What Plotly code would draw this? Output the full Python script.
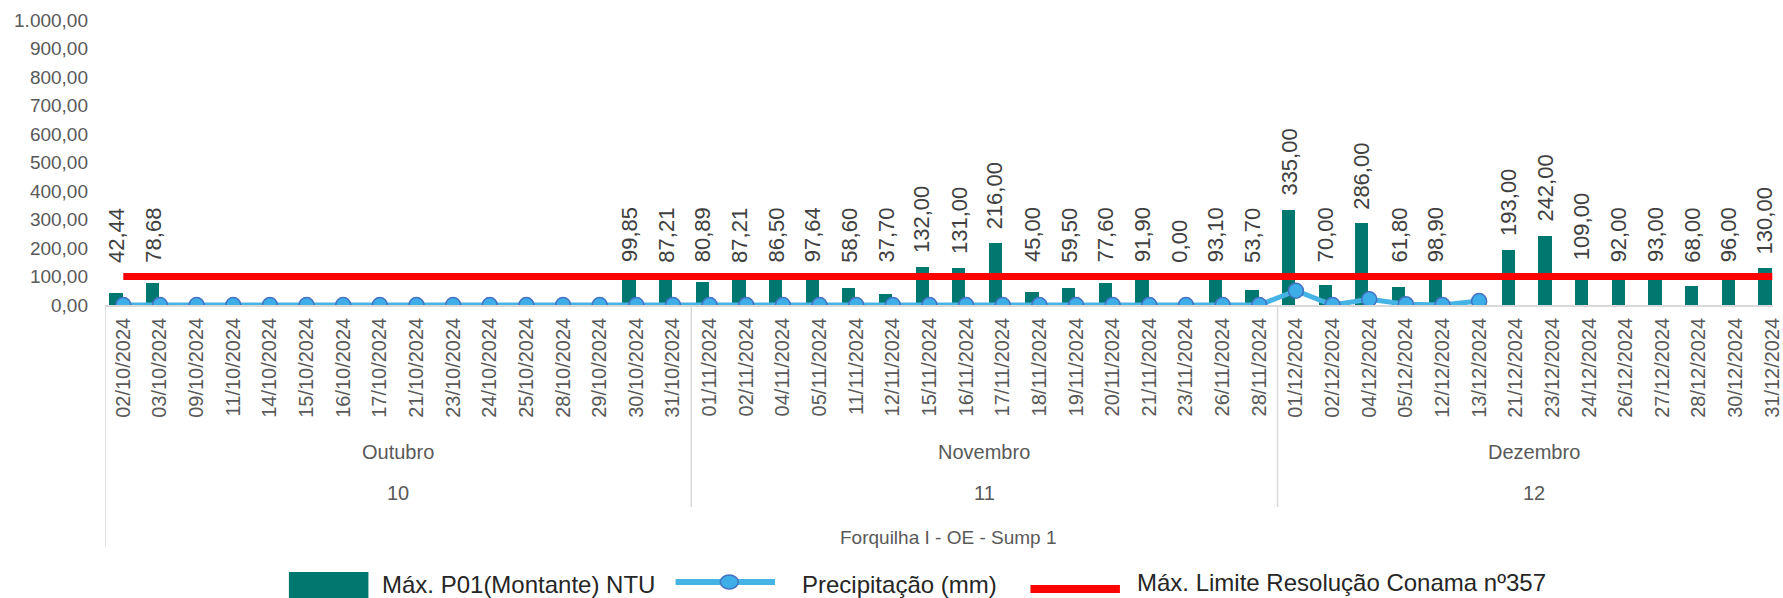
import plotly.graph_objects as go

# ---------------- data ----------------
months = ["Outubro", "Novembro", "Dezembro"]
month_nums = ["10", "11", "12"]
group_title = "Forquilha I - OE - Sump 1"

oct_dates = ["02/10/2024", "03/10/2024", "09/10/2024", "11/10/2024", "14/10/2024",
             "15/10/2024", "16/10/2024", "17/10/2024", "21/10/2024", "23/10/2024",
             "24/10/2024", "25/10/2024", "28/10/2024", "29/10/2024", "30/10/2024",
             "31/10/2024"]
nov_dates = ["01/11/2024", "02/11/2024", "04/11/2024", "05/11/2024", "11/11/2024",
             "12/11/2024", "15/11/2024", "16/11/2024", "17/11/2024", "18/11/2024",
             "19/11/2024", "20/11/2024", "21/11/2024", "23/11/2024", "26/11/2024",
             "28/11/2024"]
dec_dates = ["01/12/2024", "02/12/2024", "04/12/2024", "05/12/2024", "12/12/2024",
             "13/12/2024", "21/12/2024", "23/12/2024", "24/12/2024", "26/12/2024",
             "27/12/2024", "28/12/2024", "30/12/2024", "31/12/2024"]

oct_ntu = [42.44, 78.68, None, None, None, None, None, None, None, None,
           None, None, None, None, 99.85, 87.21]
nov_ntu = [80.89, 87.21, 86.50, 97.64, 58.60, 37.70, 132.00, 131.00, 216.00, 45.00,
           59.50, 77.60, 91.90, 0.00, 93.10, 53.70]
dec_ntu = [335.00, 70.00, 286.00, 61.80, 98.90, None, 193.00, 242.00, 109.00, 92.00,
           93.00, 68.00, 96.00, 130.00]

oct_precip = [0, 0, 0, 0, 0, 0, 0, 0, 0, 0, 0, 0, 0, 0, 0, 0]
nov_precip = [0, 0, 0, 0, 0, 0, 0, 0, 0, 0, 0, 0, 0, 0, 0, 0]
dec_precip = [50, 0, 20, 3, 0, 14]

LIMIT = 100.0

bar_name = "Máx. P01(Montante) NTU"
line_name = "Precipitação (mm)"
limit_name = "Máx. Limite Resolução Conama nº357"

# ---------------- derived ----------------
dates = oct_dates + nov_dates + dec_dates
ntu = oct_ntu + nov_ntu + dec_ntu
precip = oct_precip + nov_precip + dec_precip
limit = [LIMIT] * len(dates)
xs = list(range(len(dates)))
group_sizes = [len(oct_dates), len(nov_dates), len(dec_dates)]

def br(v):
    s = f"{v:,.2f}"
    return s.replace(",", "X").replace(".", ",").replace("X", ".")

TEAL = "#00786F"
GRAY_TXT = "#595959"
FONT = "Liberation Sans, Arial, sans-serif"

fig = go.Figure()
fig.add_trace(go.Bar(x=xs, y=ntu, name=bar_name, marker_color=TEAL,
                     width=0.36, offset=-0.38, marker_line_width=0))
fig.add_trace(go.Scatter(x=xs[:len(precip)], y=precip, name=line_name,
                         mode="lines+markers",
                         line=dict(color="#45B4E5", width=5),
                         marker=dict(size=15, color="#3DAEE8",
                                     line=dict(color="#4472C4", width=1.5))))
fig.add_trace(go.Scatter(x=xs, y=limit, name=limit_name, mode="lines",
                         line=dict(color="#FF0000", width=7)))

annotations = []
for i, v in enumerate(ntu):
    if v is None:
        continue
    annotations.append(dict(x=i - 0.2, y=max(v, LIMIT), xref="x", yref="y",
                            text=br(v), textangle=-90, showarrow=False,
                            xanchor="center", yanchor="bottom", yshift=12,
                            font=dict(family=FONT, size=22, color="#404040")))

# plot area: y from 20px (top) to 305px (bottom) -> 285px tall
def py(px):
    return -(px - 305) / 285.0

shapes = []
start = 0
for gi, n in enumerate(group_sizes):
    end = start + n
    center = (start - 0.5 + end - 0.5) / 2.0
    annotations.append(dict(x=center, y=py(452), xref="x", yref="paper",
                            text=months[gi], showarrow=False, yanchor="middle",
                            font=dict(family=FONT, size=20, color=GRAY_TXT)))
    annotations.append(dict(x=center, y=py(493), xref="x", yref="paper",
                            text=month_nums[gi], showarrow=False, yanchor="middle",
                            font=dict(family=FONT, size=20, color=GRAY_TXT)))
    if start > 0:
        shapes.append(dict(type="line", xref="x", yref="paper",
                           x0=start - 0.5, x1=start - 0.5, y0=0, y1=py(507),
                           line=dict(color="#D9D9D9", width=1.5)))
    start = end

annotations.append(dict(x=(len(dates) - 1) / 2.0, y=py(537), xref="x", yref="paper",
                        text=group_title, showarrow=False, yanchor="middle",
                        font=dict(family=FONT, size=19, color=GRAY_TXT)))
shapes.append(dict(type="line", xref="x", yref="paper", x0=-0.5, x1=-0.5,
                   y0=0, y1=py(547), line=dict(color="#D9D9D9", width=1.5)))

# manual legend (paper coords)
L, W = 105, 1678.0
def pxp(px):
    return (px - L) / W

shapes.append(dict(type="rect", xref="paper", yref="paper",
                   x0=pxp(290), x1=pxp(370), y0=py(572), y1=py(610),
                   fillcolor=TEAL, line=dict(width=0)))
annotations.append(dict(x=pxp(382), y=py(584), xref="paper", yref="paper",
                        text=bar_name, showarrow=False, xanchor="left", yanchor="middle",
                        font=dict(family=FONT, size=24, color="#262626")))
shapes.append(dict(type="line", xref="paper", yref="paper",
                   x0=pxp(679), x1=pxp(779), y0=py(582), y1=py(582),
                   line=dict(color="#45B4E5", width=6)))
shapes.append(dict(type="circle", xref="paper", yref="paper",
                   xsizemode="pixel", ysizemode="pixel",
                   xanchor=pxp(733), yanchor=py(582),
                   x0=-9, x1=9, y0=-7, y1=7,
                   fillcolor="#3DAEE8", line=dict(color="#4472C4", width=1.5)))
annotations.append(dict(x=pxp(804), y=py(584), xref="paper", yref="paper",
                        text=line_name, showarrow=False, xanchor="left", yanchor="middle",
                        font=dict(family=FONT, size=24, color="#262626")))
shapes.append(dict(type="line", xref="paper", yref="paper",
                   x0=pxp(1036), x1=pxp(1126), y0=py(589), y1=py(589),
                   line=dict(color="#FF0000", width=8)))
annotations.append(dict(x=pxp(1141), y=py(582), xref="paper", yref="paper",
                        text=limit_name, showarrow=False, xanchor="left", yanchor="middle",
                        font=dict(family=FONT, size=24, color="#262626")))

fig.update_layout(
    width=1783, height=598,
    margin=dict(l=L, r=0, t=20, b=293, pad=0),
    paper_bgcolor="white", plot_bgcolor="white",
    showlegend=False,
    separators=",.",
    bargap=0,
    annotations=annotations,
    shapes=shapes,
    font=dict(family=FONT),
)
fig.update_xaxes(type="linear", range=[-0.5, 45.02], tickmode="array",
                 tickvals=xs, ticktext=dates, tickangle=-90,
                 showgrid=False, zeroline=False, showline=True,
                 linecolor="#D9D9D9", linewidth=1.5, ticks="",
                 ticklabelstandoff=3, ticklabeloverflow="allow",
                 tickfont=dict(family=FONT, size=20, color=GRAY_TXT))
fig.update_yaxes(range=[0, 1000], tickmode="array",
                 tickvals=[0, 100, 200, 300, 400, 500, 600, 700, 800, 900, 1000],
                 tickformat=",.2f", showgrid=False, zeroline=False, showline=False,
                 ticks="", ticklabelstandoff=16,
                 tickfont=dict(family=FONT, size=19, color=GRAY_TXT))

fig.write_html("out.html",
               config={"displayModeBar": False},
               post_script="document.body.style.margin='0';"
                           "document.body.style.overflow='hidden';")
